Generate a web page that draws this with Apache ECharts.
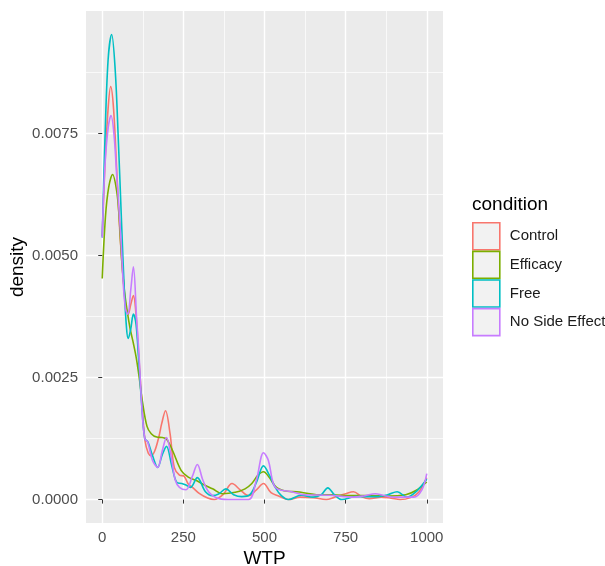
<!DOCTYPE html>
<html>
<head>
<meta charset="utf-8">
<script src="https://cdn.jsdelivr.net/npm/echarts@6/dist/echarts.min.js"></script>
<style>
  html, body { margin: 0; padding: 0; background: #fff; }
  #chart { width: 605px; height: 566px; }
</style>
</head>
<body>
<div id="chart"></div>
<script>
// density estimates, [WTP, density]
const conditions = ['Control', 'Efficacy', 'Free', 'No Side Effect']
const colors = ['#F8766D', '#7CAE00', '#00BFC4', '#C77CFF']

const control = [
  [0, 0.0054], [8, 0.0068], [18, 0.0080], [26, 0.00846], [35, 0.0080], [45, 0.0067],
  [55, 0.0054], [65, 0.0045], [72, 0.0040], [80, 0.0038], [88, 0.0040], [96, 0.00418],
  [104, 0.0038], [112, 0.0030], [122, 0.0020], [132, 0.0012], [142, 0.00095], [151, 0.0009],
  [162, 0.0010], [175, 0.0013], [183, 0.00155], [195, 0.00182], [209, 0.00135], [222, 0.00066],
  [238, 0.0005], [252, 0.00048], [265, 0.00032], [278, 0.00025], [300, 0.00012], [325, 0.00003],
  [345, 0.0], [372, 0.0001], [400, 0.00033], [425, 0.0002], [451, 0.00008], [475, 0.0002],
  [497, 0.00033], [520, 0.00014], [545, 0.00007], [573, 0.0], [610, 0.00005], [650, 0.00004],
  [690, 0.0], [716, 0.00005], [750, 0.00012], [774, 0.00016], [800, 0.00006], [823, 0.00002],
  [860, 0.00005], [890, 0.00003], [918, 0.0], [950, 0.00004], [975, 0.00015], [1000, 0.00045]
]

const efficacy = [
  [0, 0.00453], [10, 0.0058], [20, 0.0064], [32, 0.00666], [45, 0.0063], [52, 0.0058],
  [60, 0.0049], [68, 0.0043], [76, 0.0039], [86, 0.0035], [96, 0.0032], [105, 0.0029],
  [114, 0.0025], [124, 0.0020], [138, 0.0015], [151, 0.00135], [168, 0.00128], [185, 0.00127],
  [198, 0.00124], [217, 0.0010], [243, 0.0006], [265, 0.00046], [290, 0.00039], [315, 0.0003],
  [340, 0.00022], [370, 0.00012], [410, 0.00015], [440, 0.00022], [461, 0.00033], [480, 0.0005],
  [497, 0.00057], [515, 0.00045], [537, 0.00025], [570, 0.00017], [600, 0.00016], [630, 0.00013],
  [660, 0.0001], [710, 0.0001], [760, 0.00008], [820, 0.00008], [880, 0.00007], [935, 0.0001],
  [965, 0.00018], [1000, 0.00036]
]

const free = [
  [0, 0.00537], [8, 0.0073], [18, 0.0090], [29, 0.00953], [40, 0.0088], [50, 0.0073],
  [60, 0.0056], [68, 0.0043], [75, 0.0035], [80, 0.0033], [88, 0.0035], [96, 0.0038],
  [104, 0.0036], [112, 0.0029], [121, 0.0020], [131, 0.00125], [141, 0.00118], [155, 0.0009],
  [171, 0.00066], [185, 0.00092], [198, 0.00109], [214, 0.0007], [230, 0.00035], [245, 0.00033],
  [258, 0.0003], [272, 0.00025], [293, 0.00045], [318, 0.00016], [340, 0.00008], [360, 0.00012],
  [381, 0.00022], [405, 0.0001], [430, 0.00006], [455, 0.0001], [475, 0.00035], [497, 0.00069],
  [515, 0.0005], [533, 0.00025], [552, 0.00008], [573, 0.0], [613, 0.00009], [650, 0.00005],
  [675, 0.0001], [695, 0.00024], [715, 0.0001], [738, 0.0], [780, 0.00006], [850, 0.00006],
  [880, 0.0001], [909, 0.00016], [939, 0.00005], [970, 0.00018], [1000, 0.00042]
]

const noSideEffect = [
  [0, 0.00537], [8, 0.0068], [18, 0.0076], [27, 0.00787], [36, 0.0075], [45, 0.0066],
  [57, 0.0054], [65, 0.0044], [72, 0.0039], [79, 0.0038], [88, 0.0043], [96, 0.00477],
  [106, 0.0037], [113, 0.0030], [122, 0.0019], [131, 0.00125], [140, 0.00118], [155, 0.0008],
  [171, 0.00066], [185, 0.001], [198, 0.00127], [212, 0.0009], [225, 0.0004], [238, 0.00025],
  [258, 0.0002], [278, 0.00048], [293, 0.00072], [310, 0.0004], [329, 0.00015], [360, 0.00002],
  [400, 0.0], [451, 0.0], [475, 0.0004], [497, 0.00096], [512, 0.0008], [527, 0.00033],
  [542, 0.00021], [583, 0.00016], [622, 0.0001], [700, 0.00009], [774, 0.00005], [810, 0.00008],
  [841, 0.00012], [870, 0.00008], [900, 0.00005], [960, 0.00005], [985, 0.0002], [1000, 0.00053]
]

const seriesData = [control, efficacy, free, noSideEffect]

const xMajor = [0, 250, 500, 750, 1000]
const xMinor = [125, 375, 625, 875]
const yMajor = [0, 0.0025, 0.005, 0.0075]
const yMinor = [0.00125, 0.00375, 0.00625, 0.00875]

const chart = echarts.init(document.getElementById('chart'))

const FONT = 'Liberation Sans, Arial, sans-serif'
const xRange = { min: -50, max: 1050 }
const yRange = { min: -0.00048, max: 0.01001 }

const minorAxis = (extra) => ({
  type: 'value',
  min: extra.min,
  max: extra.max,
  axisLine: { show: false },
  axisTick: { show: false, customValues: extra.ticks },
  axisLabel: { show: false },
  splitLine: { show: true, lineStyle: { color: '#FFFFFF', width: 0.7 } },
})

const option = {
  animation: false,
  textStyle: { fontFamily: FONT },
  grid: {
    left: 86,
    right: 162,
    top: 11,
    bottom: 43,
    outerBoundsMode: 'none',
    containLabel: false,
    show: true,
    backgroundColor: '#EBEBEB',
    borderWidth: 0,
  },
  title: {
    text: 'condition',
    left: 472,
    top: 195,
    padding: 0,
    textStyle: { fontFamily: FONT, fontSize: 19, fontWeight: 'normal', color: '#000' },
  },
  legend: {
    orient: 'vertical',
    left: 472,
    top: 222,
    padding: 0,
    itemWidth: 27,
    itemHeight: 27,
    itemGap: 0,
    selectedMode: false,
    textStyle: { fontFamily: FONT, fontSize: 15, color: '#1A1A1A', lineHeight: 20, padding: [0, 0, 0, 5] },
    data: conditions.map((name, i) => ({
      name,
      icon: 'rect',
      itemStyle: { color: '#F2F2F2', borderColor: colors[i], borderWidth: 1.6 },
    })),
  },
  xAxis: [
    {
      type: 'value',
      ...xRange,
      name: 'WTP',
      nameLocation: 'middle',
      nameGap: 26,
      nameMoveOverlap: false,
      nameTextStyle: { fontFamily: FONT, fontSize: 19, color: '#000' },
      axisLine: { show: false },
      axisTick: { show: true, length: 4, customValues: xMajor, lineStyle: { color: '#333333', width: 1 } },
      axisLabel: {
        customValues: xMajor,
        margin: 7,
        fontFamily: FONT,
        fontSize: 15,
        color: '#4D4D4D',
        formatter: v => String(v),
      },
      splitLine: { show: true, lineStyle: { color: '#FFFFFF', width: 1.4 } },
    },
    minorAxis({ ...xRange, ticks: xMinor }),
  ],
  yAxis: [
    {
      type: 'value',
      ...yRange,
      name: 'density',
      nameLocation: 'middle',
      nameGap: 59,
      nameMoveOverlap: false,
      nameTextStyle: { fontFamily: FONT, fontSize: 19, color: '#000' },
      axisLine: { show: false },
      axisTick: { show: true, length: 4, customValues: yMajor, lineStyle: { color: '#333333', width: 1 } },
      axisLabel: {
        customValues: yMajor,
        margin: 8,
        fontFamily: FONT,
        fontSize: 15,
        color: '#4D4D4D',
        formatter: v => v.toFixed(4),
      },
      splitLine: { show: true, lineStyle: { color: '#FFFFFF', width: 1.4 } },
    },
    minorAxis({ ...yRange, ticks: yMinor }),
  ],
  series: conditions.map((name, i) => ({
    name,
    type: 'line',
    data: seriesData[i],
    smooth: 0.35,
    showSymbol: false,
    color: colors[i],
    lineStyle: { width: 1.6, color: colors[i] },
    z: 3 + i,
  })),
}

chart.setOption(option)
</script>
</body>
</html>
